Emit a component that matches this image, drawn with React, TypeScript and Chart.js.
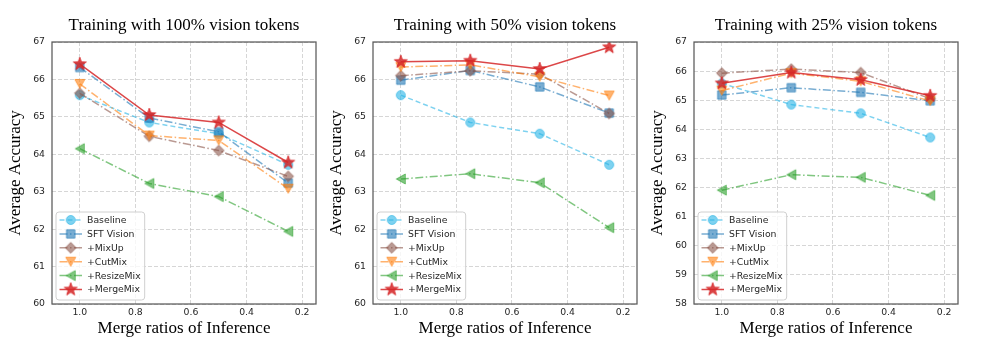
import React, { useEffect, useRef } from 'react';
import { Chart, registerables } from 'chart.js';

Chart.register(...registerables);

// ---------- data ----------
const mergeRatios = [1.0, 0.75, 0.5, 0.25];
const xTickValues = [1.0, 0.8, 0.6, 0.4, 0.2];
const seriesNames = ['Baseline', 'SFT Vision', '+MixUp', '+CutMix', '+ResizeMix', '+MergeMix'];
const panelTitles = [
  'Training with 100% vision tokens',
  'Training with 50% vision tokens',
  'Training with 25% vision tokens',
];
const yAxisMin = [60, 60, 58];
const yAxisMax = [67, 67, 67];

// Training with 100% vision tokens
const p100Baseline = [65.58, 64.85, 64.55, 63.72];
const p100SFT = [66.32, 64.97, 64.6, 63.23];
const p100MixUp = [65.63, 64.48, 64.1, 63.41];
const p100CutMix = [65.88, 64.5, 64.37, 63.08];
const p100ResizeMix = [64.15, 63.22, 62.87, 61.94];
const p100MergeMix = [66.41, 65.05, 64.85, 63.78];

// Training with 50% vision tokens
const p50Baseline = [65.58, 64.85, 64.55, 63.72];
const p50SFT = [65.98, 66.24, 65.8, 65.1];
const p50MixUp = [66.1, 66.23, 66.14, 65.09];
const p50CutMix = [66.33, 66.39, 66.07, 65.57];
const p50ResizeMix = [63.34, 63.48, 63.24, 62.04];
const p50MergeMix = [66.47, 66.5, 66.28, 66.86];

// Training with 25% vision tokens
const p25Baseline = [65.58, 64.85, 64.55, 63.72];
const p25SFT = [65.18, 65.43, 65.27, 64.98];
const p25MixUp = [65.93, 66.07, 65.95, 65.05];
const p25CutMix = [65.33, 65.93, 65.65, 64.97];
const p25ResizeMix = [61.91, 62.44, 62.35, 61.73];
const p25MergeMix = [65.58, 65.95, 65.7, 65.15];

const panelSeries = [
  [p100Baseline, p100SFT, p100MixUp, p100CutMix, p100ResizeMix, p100MergeMix],
  [p50Baseline, p50SFT, p50MixUp, p50CutMix, p50ResizeMix, p50MergeMix],
  [p25Baseline, p25SFT, p25MixUp, p25CutMix, p25ResizeMix, p25MergeMix],
];

// ---------- styles ----------
const seriesRGB: number[][] = [
  [40, 180, 230],
  [31, 119, 180],
  [140, 86, 75],
  [255, 127, 14],
  [44, 160, 44],
  [214, 39, 40],
];
const seriesAlpha = [0.6, 0.6, 0.6, 0.6, 0.6, 0.85];
const seriesDash: number[][] = [
  [5, 3],
  [8, 2.5, 1.5, 2.5],
  [8, 2.5, 1.5, 2.5],
  [8, 2.5, 1.5, 2.5],
  [8, 2.5, 1.5, 2.5],
  [],
];
const seriesShape = ['circle', 'square', 'diamond', 'tridown', 'trileft', 'star'];

const SERIF = '"Liberation Serif", "Times New Roman", serif';
const SANS = '"DejaVu Sans", sans-serif';
const TICK_SIZE = 9.3;

const rgba = (c: number[], a: number) => `rgba(${c[0]},${c[1]},${c[2]},${a})`;

function makeMarker(shape: string, c: number[], a: number): HTMLCanvasElement {
  const size = 16;
  const cv = document.createElement('canvas');
  cv.width = size;
  cv.height = size;
  const ctx = cv.getContext('2d')!;
  ctx.translate(size / 2, size / 2);
  ctx.beginPath();
  if (shape === 'circle') {
    ctx.arc(0, 0, 4.5, 0, Math.PI * 2);
  } else if (shape === 'square') {
    ctx.rect(-4.2, -4.2, 8.4, 8.4);
  } else if (shape === 'diamond') {
    const d = 5.4;
    ctx.moveTo(0, -d);
    ctx.lineTo(d, 0);
    ctx.lineTo(0, d);
    ctx.lineTo(-d, 0);
    ctx.closePath();
  } else if (shape === 'tridown') {
    ctx.moveTo(-5, -4.5);
    ctx.lineTo(5, -4.5);
    ctx.lineTo(0, 4.5);
    ctx.closePath();
  } else if (shape === 'trileft') {
    ctx.moveTo(-4.5, 0);
    ctx.lineTo(4.5, -5);
    ctx.lineTo(4.5, 5);
    ctx.closePath();
  } else if (shape === 'star') {
    const ro = 6.8;
    const ri = 2.7;
    for (let k = 0; k < 10; k++) {
      const r = k % 2 === 0 ? ro : ri;
      const ang = -Math.PI / 2 + (k * Math.PI) / 5;
      const px = Math.cos(ang) * r;
      const py = Math.sin(ang) * r;
      if (k === 0) ctx.moveTo(px, py);
      else ctx.lineTo(px, py);
    }
    ctx.closePath();
  }
  ctx.fillStyle = rgba(c, a);
  ctx.fill();
  ctx.lineWidth = 1;
  ctx.strokeStyle = rgba(c, a);
  ctx.stroke();
  return cv;
}

// geometry of each panel canvas
const CANVAS_W = 330;
const CANVAS_H = 339;
const Y_AXIS_W = 52;
const X_AXIS_H = 35;
const PLOT_TOP = 42;
const PAD_RIGHT = 14;
const panelLefts = [0, 321, 642];

function Panel({ idx }: { idx: number }) {
  const ref = useRef<HTMLCanvasElement>(null);
  useEffect(() => {
    const canvas = ref.current;
    if (!canvas) return;
    const markers = seriesShape.map((s, i) => makeMarker(s, seriesRGB[i], seriesAlpha[i]));
    const series = panelSeries[idx];
    const datasets = seriesNames.map((name, i) => ({
      label: name,
      data: series[i].map((v, j) => ({ x: mergeRatios[j], y: v })),
      borderColor: rgba(seriesRGB[i], seriesAlpha[i]),
      backgroundColor: rgba(seriesRGB[i], seriesAlpha[i]),
      borderWidth: 1.5,
      borderDash: seriesDash[i],
      pointStyle: markers[i] as any,
      pointRadius: 5,
      pointHoverRadius: 5,
      order: seriesNames.length - i,
      tension: 0,
      fill: false,
    }));

    const deco = {
      id: 'deco' + idx,
      afterDatasetsDraw(chart: any) {
        const { ctx, chartArea: ca } = chart;
        ctx.save();
        // frame
        ctx.setLineDash([]);
        ctx.strokeStyle = '#5a5a5a';
        ctx.lineWidth = 1.25;
        ctx.strokeRect(ca.left, ca.top, ca.right - ca.left, ca.bottom - ca.top);

        // legend
        ctx.font = `${TICK_SIZE}px ${SANS}`;
        let maxW = 0;
        seriesNames.forEach((n) => {
          maxW = Math.max(maxW, ctx.measureText(n).width);
        });
        const lx = ca.left + 4;
        const lw = 31 + maxW + 4;
        const lh = 88;
        const ly = ca.bottom - 4 - lh;
        ctx.beginPath();
        if (ctx.roundRect) ctx.roundRect(lx, ly, lw, lh, 3);
        else ctx.rect(lx, ly, lw, lh);
        ctx.fillStyle = 'rgba(255,255,255,0.8)';
        ctx.fill();
        ctx.strokeStyle = '#d0d0d0';
        ctx.lineWidth = 1;
        ctx.stroke();
        seriesNames.forEach((n, i) => {
          const cy = ly + 8 + i * 13.9;
          ctx.beginPath();
          ctx.setLineDash(seriesDash[i]);
          ctx.strokeStyle = rgba(seriesRGB[i], seriesAlpha[i]);
          ctx.lineWidth = 1.5;
          ctx.moveTo(lx + 3.5, cy);
          ctx.lineTo(lx + 26, cy);
          ctx.stroke();
          ctx.setLineDash([]);
          const m = markers[i];
          ctx.drawImage(m, lx + 14.7 - m.width / 2, cy - m.height / 2);
          ctx.fillStyle = '#262626';
          ctx.textAlign = 'left';
          ctx.textBaseline = 'middle';
          ctx.fillText(n, lx + 31, cy + 0.5);
        });

        // title
        ctx.font = `17px ${SERIF}`;
        ctx.fillStyle = '#000';
        ctx.textAlign = 'center';
        ctx.textBaseline = 'alphabetic';
        ctx.fillText(panelTitles[idx], (ca.left + ca.right) / 2, 29.5);
        ctx.restore();
      },
    };

    const chart = new Chart(canvas, {
      type: 'line',
      data: { datasets: datasets as any },
      options: {
        responsive: false,
        animation: false,
        events: [],
        layout: { padding: { left: 0, right: PAD_RIGHT, top: PLOT_TOP, bottom: 0 } },
        plugins: {
          legend: { display: false },
          title: { display: false },
          tooltip: { enabled: false },
        },
        scales: {
          x: {
            type: 'linear',
            reverse: true,
            min: 0.15,
            max: 1.1,
            afterBuildTicks: (scale: any) => {
              scale.ticks = xTickValues.map((v) => ({ value: v }));
            },
            afterFit: (scale: any) => {
              scale.height = X_AXIS_H;
            },
            ticks: {
              callback: (v: any) => Number(v).toFixed(1),
              font: { family: SANS, size: TICK_SIZE },
              color: '#262626',
              padding: 3,
              maxRotation: 0,
              autoSkip: false,
            },
            grid: { color: '#cccccc', lineWidth: 0.8, drawTicks: false },
            border: { display: false, dash: [4, 2] },
            title: {
              display: true,
              text: 'Merge ratios of Inference',
              font: { family: SERIF, size: 17, lineHeight: 1.2 },
              color: '#000',
              padding: { top: 0, bottom: 0 },
            },
          },
          y: {
            type: 'linear',
            min: yAxisMin[idx],
            max: yAxisMax[idx],
            afterFit: (scale: any) => {
              scale.width = Y_AXIS_W;
            },
            ticks: {
              stepSize: 1,
              font: { family: SANS, size: TICK_SIZE },
              color: '#262626',
              padding: 7,
            },
            grid: { color: '#cccccc', lineWidth: 0.8, drawTicks: false },
            border: { display: false, dash: [4, 2] },
            title: {
              display: true,
              text: 'Average Accuracy',
              font: { family: SERIF, size: 17, lineHeight: 1.2 },
              color: '#000',
              padding: { top: 5, bottom: 0 },
            },
          },
        },
      },
      plugins: [deco],
    });
    return () => chart.destroy();
  }, [idx]);

  return (
    <canvas
      ref={ref}
      width={CANVAS_W}
      height={CANVAS_H}
      style={{ position: 'absolute', left: panelLefts[idx], top: 0, width: CANVAS_W, height: CANVAS_H }}
    />
  );
}

export default function App() {
  return (
    <div
      style={{
        position: 'absolute',
        left: 0,
        top: 0,
        width: 996,
        height: 339,
        background: '#ffffff',
        overflow: 'hidden',
      }}
    >
      {panelTitles.map((_, i) => (
        <Panel key={i} idx={i} />
      ))}
    </div>
  );
}
